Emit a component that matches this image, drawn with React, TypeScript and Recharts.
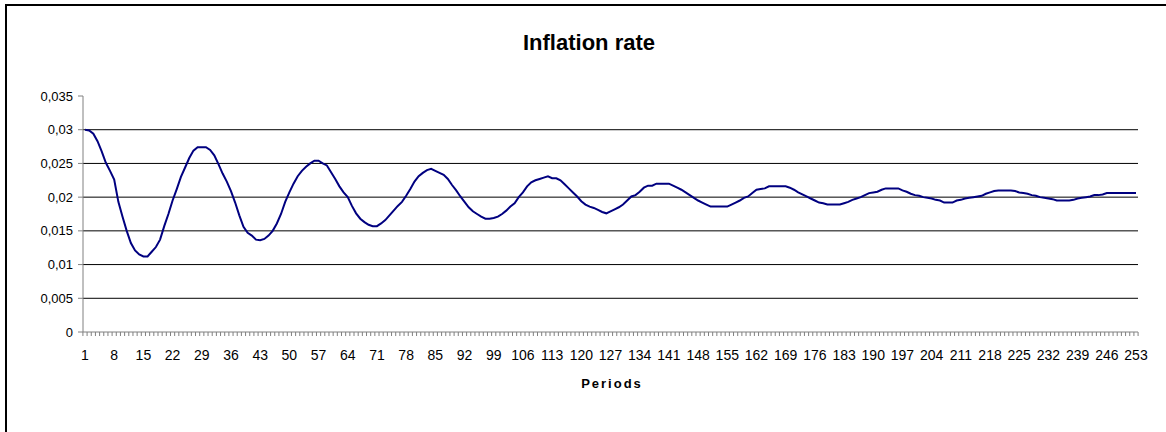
import React from "react";
import { LineChart, Line, XAxis, YAxis, ReferenceLine } from "recharts";

const INFLATION: number[] = [
  0.0300, 0.0299, 0.0294, 0.0283, 0.0268, 0.0251, 0.0239, 0.0226, 0.0193, 0.0171,
  0.0150, 0.0132, 0.0121, 0.0115, 0.0112, 0.0112, 0.0119, 0.0126, 0.0137, 0.0157,
  0.0175, 0.0195, 0.0212, 0.0230, 0.0244, 0.0258, 0.0269, 0.0274, 0.0274, 0.0274,
  0.0270, 0.0262, 0.0249, 0.0235, 0.0223, 0.0209, 0.0192, 0.0173, 0.0156, 0.0147,
  0.0143, 0.0137, 0.0136, 0.0138, 0.0143, 0.0150, 0.0161, 0.0175, 0.0193, 0.0207,
  0.0220, 0.0231, 0.0239, 0.0245, 0.0250, 0.0254, 0.0254, 0.0250, 0.0247, 0.0237,
  0.0227, 0.0216, 0.0207, 0.0200, 0.0187, 0.0176, 0.0168, 0.0163, 0.0159, 0.0157,
  0.0157, 0.0161, 0.0166, 0.0173, 0.0180, 0.0187, 0.0193, 0.0202, 0.0212, 0.0223,
  0.0231, 0.0236, 0.0240, 0.0242, 0.0239, 0.0236, 0.0233, 0.0227, 0.0218, 0.0210,
  0.0201, 0.0193, 0.0185, 0.0179, 0.0175, 0.0171, 0.0168, 0.0168, 0.0169, 0.0171,
  0.0175, 0.0180, 0.0186, 0.0191, 0.0200, 0.0207, 0.0216, 0.0222, 0.0225, 0.0227,
  0.0229, 0.0231, 0.0228, 0.0228, 0.0225, 0.0219, 0.0213, 0.0207, 0.0201, 0.0194,
  0.0189, 0.0186, 0.0184, 0.0181, 0.0178, 0.0176, 0.0179, 0.0182, 0.0185, 0.0189,
  0.0195, 0.0201, 0.0203, 0.0208, 0.0214, 0.0217, 0.0217, 0.0220, 0.0220, 0.0220,
  0.0220, 0.0217, 0.0214, 0.0211, 0.0207, 0.0203, 0.0199, 0.0195, 0.0192, 0.0189,
  0.0186, 0.0186, 0.0186, 0.0186, 0.0186, 0.0189, 0.0192, 0.0195, 0.0199, 0.0201,
  0.0206, 0.0211, 0.0212, 0.0213, 0.0216, 0.0216, 0.0216, 0.0216, 0.0216, 0.0214,
  0.0211, 0.0207, 0.0204, 0.0201, 0.0198, 0.0195, 0.0192, 0.0191, 0.0189, 0.0189,
  0.0189, 0.0189, 0.0191, 0.0193, 0.0196, 0.0198, 0.0200, 0.0203, 0.0206, 0.0207,
  0.0208, 0.0211, 0.0213, 0.0213, 0.0213, 0.0213, 0.0210, 0.0208, 0.0205, 0.0203,
  0.0202, 0.0200, 0.0199, 0.0198, 0.0196, 0.0195, 0.0192, 0.0192, 0.0192, 0.0195,
  0.0196, 0.0198, 0.0199, 0.0200, 0.0201, 0.0202, 0.0205, 0.0207, 0.0209, 0.0210,
  0.0210, 0.0210, 0.0210, 0.0209, 0.0207, 0.0206, 0.0205, 0.0203, 0.0202, 0.0200,
  0.0199, 0.0198, 0.0197, 0.0195, 0.0195, 0.0195, 0.0195, 0.0196, 0.0198, 0.0199,
  0.0200, 0.0201, 0.0203, 0.0203, 0.0204, 0.0206, 0.0206, 0.0206, 0.0206, 0.0206,
  0.0206, 0.0206, 0.0206,
];

const PERIODS: number[] = INFLATION.map((_, i) => i + 1);
const Y_TICKS: number[] = [0, 0.005, 0.01, 0.015, 0.02, 0.025, 0.03, 0.035];
const GRID_VALUES: number[] = [0.005, 0.01, 0.015, 0.02, 0.025, 0.03];
const LABEL_EVERY = 7;
const TITLE = "Inflation rate";
const X_TITLE = "Periods";

const data = PERIODS.map((p, i) => ({ period: p, value: INFLATION[i] }));

const FONT = "'Liberation Sans', Arial, Helvetica, sans-serif";
const STEP = 1051 / (PERIODS.length - 1);

const XTick = (props: any) => {
  const { x, y, payload, index } = props;
  const showLabel = index % LABEL_EVERY === 0;
  const last = index === PERIODS.length - 1;
  return (
    <g>
      <line x1={x - STEP / 2} x2={x - STEP / 2} y1={y} y2={y + 4} stroke="#808080" strokeWidth={1} />
      {last && (
        <line x1={x + STEP / 2} x2={x + STEP / 2} y1={y} y2={y + 4} stroke="#808080" strokeWidth={1} />
      )}
      {showLabel && (
        <text
          x={x}
          y={y + 23}
          dy="0.355em"
          textAnchor="middle"
          fontSize={14}
          fontFamily={FONT}
          fill="#000"
        >
          {payload.value}
        </text>
      )}
    </g>
  );
};

export default function App() {
  return (
    <div
      style={{
        position: "absolute",
        left: 0,
        top: 0,
        width: 1166,
        height: 432,
        background: "#fff",
        overflow: "hidden",
        fontFamily: FONT,
      }}
    >
      <div
        style={{
          position: "absolute",
          left: 5,
          top: 4,
          width: 1200,
          height: 500,
          borderLeft: "2px solid #000",
          borderTop: "2px solid #000",
          boxSizing: "border-box",
        }}
      />
      <div
        style={{
          position: "absolute",
          left: 0,
          width: 1178,
          top: 30,
          textAlign: "center",
          fontSize: 22,
          fontWeight: "bold",
          lineHeight: "26px",
          color: "#000",
        }}
      >
        {TITLE}
      </div>
      <div
        style={{
          position: "absolute",
          left: 0,
          width: 1224,
          top: 376,
          textAlign: "center",
          fontSize: 13,
          fontWeight: "bold",
          letterSpacing: 2,
          lineHeight: "16px",
          color: "#000",
        }}
      >
        {X_TITLE}
      </div>
      <div style={{ position: "absolute", left: 0, top: 0 }}>
        <LineChart
          width={1166}
          height={432}
          data={data}
          margin={{ top: 96, right: 28, bottom: 70, left: 0 }}
        >
          {GRID_VALUES.map((v) => (
            <ReferenceLine key={v} y={v} stroke="#000" strokeWidth={1} />
          ))}
          <XAxis
            dataKey="period"
            type="category"
            interval={0}
            height={30}
            padding={{ left: 2, right: 2 }}
            tickSize={0}
            tickMargin={0}
            tickLine={false}
            stroke="#808080"
            tick={<XTick />}
          />
          <YAxis
            width={83}
            domain={[0, 0.035]}
            ticks={Y_TICKS}
            interval={0}
            tickSize={5}
            tickMargin={5}
            stroke="#808080"
            tick={{ fontSize: 13, fontFamily: FONT, fill: "#000" }}
            tickFormatter={(v: number) => String(v).replace(".", ",")}
          />
          <Line
            type="linear"
            dataKey="value"
            stroke="#000080"
            strokeWidth={2}
            dot={false}
            isAnimationActive={false}
          />
        </LineChart>
      </div>
    </div>
  );
}
